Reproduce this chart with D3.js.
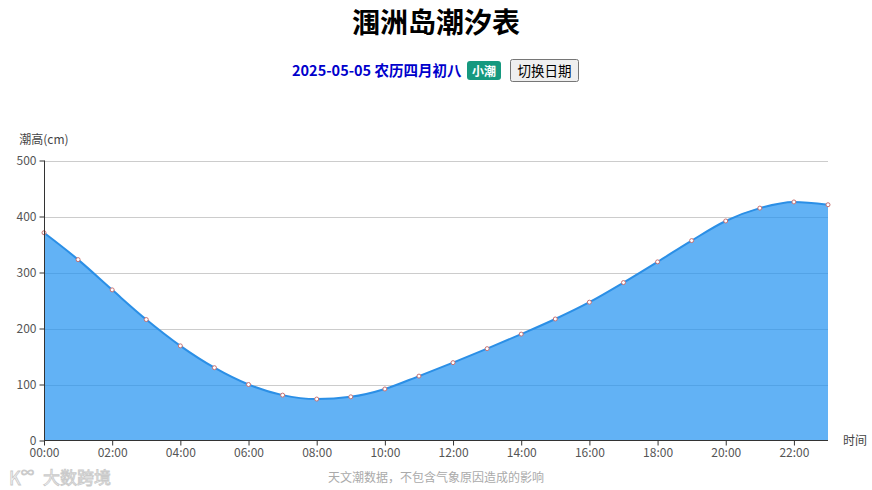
<!DOCTYPE html>
<html>
<head>
<meta charset="utf-8">
<script src="https://cdn.jsdelivr.net/npm/d3@7"></script>
<style>
  html, body { margin: 0; padding: 0; background: #fff; }
  svg { display: block; font-family: "Noto Sans CJK SC", "Noto Sans", sans-serif; }
</style>
</head>
<body>
<svg id="chart" width="872" height="490"></svg>
<script>
// ---- data ----
const hours = ["00:00","01:00","02:00","03:00","04:00","05:00","06:00","07:00","08:00","09:00","10:00","11:00",
               "12:00","13:00","14:00","15:00","16:00","17:00","18:00","19:00","20:00","21:00","22:00","23:00"];
const tideHeights = [371, 323, 269, 216, 169, 130, 100, 81, 74, 78, 92, 115,
                     139, 164, 190, 217, 247, 282, 319, 357, 392, 415, 426, 421];
const yTicks = [0, 100, 200, 300, 400, 500];
const xTickLabels = ["00:00","02:00","04:00","06:00","08:00","10:00","12:00","14:00","16:00","18:00","20:00","22:00"];
const titleText = "涠洲岛潮汐表";
const dateText = "2025-05-05 农历四月初八";
const tideType = "小潮";
const buttonText = "切换日期";
const yAxisName = "潮高(cm)";
const xAxisName = "时间";
const footnote = "天文潮数据，不包含气象原因造成的影响";
const watermarkText = "大数跨境";

(function () {
// ---- layout ----
const svg = d3.select("#chart");
const pLeft = 44, pRight = 828, pTop = 160.5, pBottom = 440.5;

const x = d3.scalePoint().domain(hours).range([pLeft, pRight]);
const y = d3.scaleLinear().domain([0, 500]).range([pBottom, pTop]);

// Title
svg.append("text").attr("x", 436).attr("y", 33).attr("text-anchor", "middle")
  .attr("font-size", 28).attr("font-weight", "bold").attr("fill", "#000").text(titleText);

// Subtitle row
svg.append("text").attr("x", 292).attr("y", 75.5)
  .attr("font-size", 14.5).attr("font-weight", "bold").attr("fill", "#0000cc").text(dateText);

const badge = svg.append("g");
badge.append("rect").attr("x", 467).attr("y", 61).attr("width", 34).attr("height", 19).attr("rx", 3)
  .attr("fill", "#16997f");
badge.append("text").attr("x", 484).attr("y", 75.5).attr("text-anchor", "middle")
  .attr("font-size", 12).attr("font-weight", "bold").attr("fill", "#fff").text(tideType);

const btn = svg.append("g");
btn.append("rect").attr("x", 510.5).attr("y", 59.5).attr("width", 68).attr("height", 22).attr("rx", 2)
  .attr("fill", "#efefef").attr("stroke", "#767676").attr("stroke-width", 1);
btn.append("text").attr("x", 544.5).attr("y", 75.5).attr("text-anchor", "middle")
  .attr("font-size", 13.5).attr("fill", "#000").text(buttonText);

// Grid lines
svg.append("g").selectAll("line").data(yTicks.filter(d => d > 0)).join("line")
  .attr("x1", pLeft).attr("x2", pRight)
  .attr("y1", d => Math.round(y(d)) + 0.5).attr("y2", d => Math.round(y(d)) + 0.5)
  .attr("stroke", "#cccccc").attr("stroke-width", 1);

// Area + line
const area = d3.area().x((d, i) => x(hours[i])).y0(y(0)).y1(d => y(d)).curve(d3.curveMonotoneX);
const line = d3.line().x((d, i) => x(hours[i])).y(d => y(d)).curve(d3.curveMonotoneX);

svg.append("path").datum(tideHeights).attr("d", area)
  .attr("fill", "#2091f1").attr("fill-opacity", 0.7);
svg.append("path").datum(tideHeights).attr("d", line)
  .attr("fill", "none").attr("stroke", "#2b8fe6").attr("stroke-width", 2);

// Points
svg.append("g").selectAll("circle").data(tideHeights).join("circle")
  .attr("cx", (d, i) => x(hours[i])).attr("cy", d => y(d)).attr("r", 2)
  .attr("fill", "#fff").attr("stroke", "#c87070").attr("stroke-width", 1);

// Y axis
const yAxis = d3.axisLeft(y).tickValues(yTicks).tickSize(5).tickPadding(3);
const gy = svg.append("g").attr("transform", `translate(${pLeft + 0.5},0)`).call(yAxis);
gy.select(".domain").attr("stroke", "#333").attr("d", `M0,${pTop}V${pBottom}`);
gy.selectAll(".tick line").attr("stroke", "#333");
gy.selectAll(".tick text").attr("fill", "#555").attr("font-size", 12)
  .attr("font-family", "\"Noto Sans CJK SC\", sans-serif");

// X axis
const xAxis = d3.axisBottom(x).tickValues(xTickLabels).tickSize(5).tickPadding(3);
const gx = svg.append("g").attr("transform", `translate(0,${pBottom})`).call(xAxis);
gx.select(".domain").attr("stroke", "#333").attr("d", `M${pLeft},0H${pRight}`);
gx.selectAll(".tick line").attr("stroke", "#333");
gx.selectAll(".tick text").attr("fill", "#555").attr("font-size", 12)
  .attr("font-family", "\"Noto Sans CJK SC\", sans-serif");

// Axis names
svg.append("text").attr("x", pLeft).attr("y", 144).attr("text-anchor", "middle")
  .attr("font-size", 12).attr("fill", "#444").text(yAxisName);
svg.append("text").attr("x", 843).attr("y", 444.5)
  .attr("font-size", 12).attr("fill", "#444").text(xAxisName);

// Footnote
svg.append("text").attr("x", 436).attr("y", 481.5).attr("text-anchor", "middle")
  .attr("font-size", 12).attr("fill", "#aaa").text(footnote);

// Watermark
const wm = svg.append("g").attr("opacity", 0.8);
wm.append("text").attr("x", 9).attr("y", 485).attr("font-size", 18)
  .attr("fill", "#fff").attr("stroke", "#bdbdbd").attr("stroke-width", 0.9).text("K");
wm.append("text").attr("x", 21).attr("y", 477).attr("font-size", 13)
  .attr("fill", "#fff").attr("stroke", "#bdbdbd").attr("stroke-width", 0.9).text("∞");
wm.append("text").attr("x", 43).attr("y", 484).attr("font-size", 17)
  .attr("fill", "#fff").attr("stroke", "#bdbdbd").attr("stroke-width", 0.9).text(watermarkText);
})();
</script>
</body>
</html>
